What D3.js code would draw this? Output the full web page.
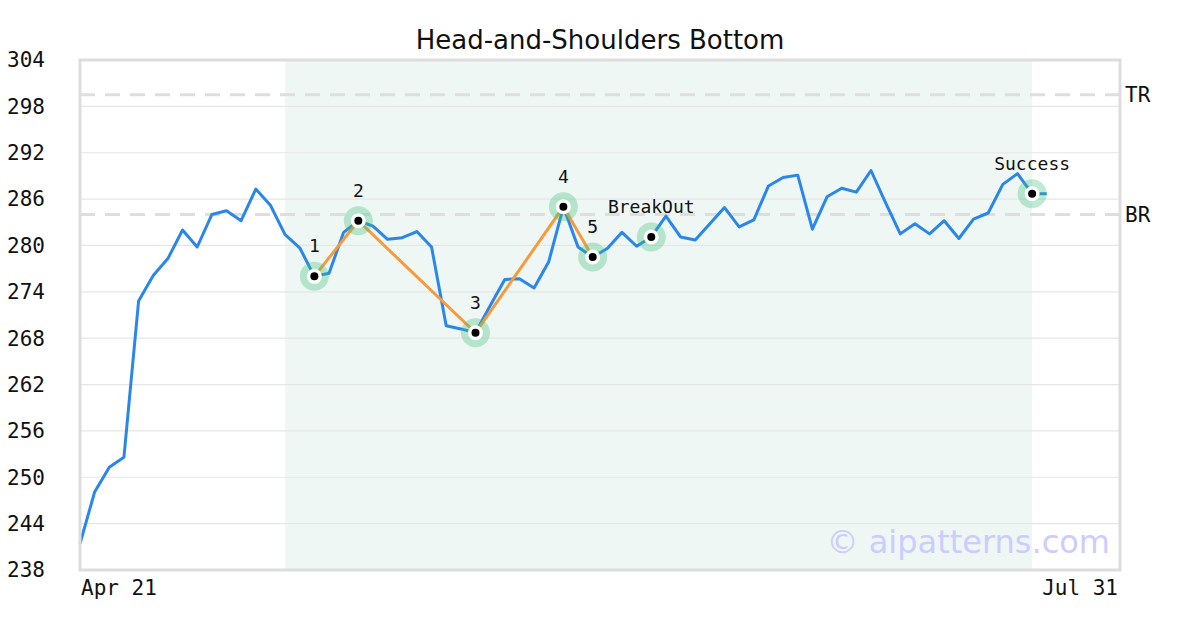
<!DOCTYPE html>
<html>
<head>
<meta charset="utf-8">
<script src="https://cdn.jsdelivr.net/npm/d3@7/dist/d3.min.js"></script>
<style>
  html, body { margin: 0; padding: 0; background: #fff; }
  svg { display: block; }
</style>
</head>
<body>
<svg id="chart" width="1200" height="630"></svg>
<script>
// ---- data ----
const prices = [
  241.4, 248.1, 251.3, 252.6, 272.8, 276.1, 278.3, 282.0, 279.8, 284.0,
  284.5, 283.2, 287.3, 285.2, 281.4, 279.7, 276.0, 276.4, 281.7, 283.2,
  282.5, 280.8, 281.0, 281.8, 279.8, 269.6, 269.2, 268.7, 272.2, 275.6,
  275.7, 274.5, 277.9, 285.0, 279.8, 278.5, 279.6, 281.7, 279.9, 281.1,
  283.8, 281.1, 280.7, 282.8, 284.9, 282.4, 283.3, 287.7, 288.8, 289.1,
  282.1, 286.3, 287.4, 286.9, 289.7, 285.5, 281.5, 282.8, 281.5, 283.2,
  280.9, 283.4, 284.2, 287.9, 289.3, 286.7, 286.7
];
const xDomain = [0, 71];                 // trading-day index range of the axis
const xTickIndex = [0, 71];
const xTickLabels = ["Apr 21", "Jul 31"];
const yTicks = [238, 244, 250, 256, 262, 268, 274, 280, 286, 292, 298, 304];
const patternIdx = [16, 19, 27, 33, 35];
const patternLabels = ["1", "2", "3", "4", "5"];
const eventIdx = [39, 65];
const eventLabels = ["BreakOut", "Success"];
const levelValues = [299.5, 284.0];
const levelLabels = ["TR", "BR"];
const shadeRange = [14, 65];

// ---- layout ----
const L = 80, R = 1120, T = 60, B = 570;
const svg = d3.select("#chart");
const x = d3.scaleLinear().domain(xDomain).range([L, R]);
const y = d3.scaleLinear().domain([238, 304]).range([B, T]);
const mono = "'DejaVu Sans Mono', monospace";
const sans = "'DejaVu Sans', sans-serif";

// title
svg.append("text").attr("x", 600).attr("y", 49).attr("text-anchor", "middle")
  .attr("font-family", sans).attr("font-size", 26).attr("fill", "#111")
  .text("Head-and-Shoulders Bottom");

// shaded pattern region
svg.append("rect")
  .attr("x", x(shadeRange[0])).attr("y", T)
  .attr("width", x(shadeRange[1]) - x(shadeRange[0])).attr("height", B - T)
  .attr("fill", "#eff7f4");

// gridlines
svg.append("g").selectAll("line").data(yTicks.slice(1, -1)).join("line")
  .attr("x1", L).attr("x2", R).attr("y1", d => y(d)).attr("y2", d => y(d))
  .attr("stroke", "#e6e6e6").attr("stroke-width", 1.2);

// y tick labels
svg.append("g").selectAll("text").data(yTicks).join("text")
  .attr("x", 45).attr("y", d => y(d)).attr("dy", "0.35em")
  .attr("text-anchor", "end").attr("font-family", mono).attr("font-size", 21)
  .attr("fill", "#111").text(d => d);

// x tick labels
svg.append("g").selectAll("text").data(xTickIndex).join("text")
  .attr("x", (d, i) => i === 0 ? x(d) + 1 : x(d) - 2).attr("y", 595)
  .attr("text-anchor", (d, i) => i === 0 ? "start" : "end")
  .attr("font-family", mono).attr("font-size", 21).attr("fill", "#111")
  .text((d, i) => xTickLabels[i]);

// level dashed lines
svg.append("g").selectAll("line").data(levelValues).join("line")
  .attr("x1", L).attr("x2", R).attr("y1", d => y(d)).attr("y2", d => y(d))
  .attr("stroke", "#dedede").attr("stroke-width", 3).attr("stroke-dasharray", "15,10");
svg.append("g").selectAll("text").data(levelValues).join("text")
  .attr("x", 1125).attr("y", d => y(d)).attr("dy", "0.35em")
  .attr("font-family", mono).attr("font-size", 21).attr("fill", "#111")
  .text((d, i) => levelLabels[i]);

// watermark
svg.append("text").attr("x", 1110).attr("y", 553).attr("text-anchor", "end")
  .attr("font-family", sans).attr("font-size", 32).attr("fill", "#ccccff")
  .text("© aipatterns.com");

// price line
const line = d3.line().x((d, i) => x(i)).y(d => y(d));
svg.append("path").datum(prices).attr("d", line)
  .attr("fill", "none").attr("stroke", "#2a86e8").attr("stroke-width", 3)
  .attr("stroke-linejoin", "round");

// pattern line
const patLine = d3.line().x(i => x(i)).y(i => y(prices[i]));
svg.append("path").datum(patternIdx).attr("d", patLine)
  .attr("fill", "none").attr("stroke", "#f79a3e").attr("stroke-width", 3);

// markers
const allIdx = patternIdx.concat(eventIdx);
const allLabels = patternLabels.concat(eventLabels);
const mk = svg.append("g").selectAll("g").data(allIdx).join("g")
  .attr("transform", i => `translate(${x(i)},${y(prices[i])})`);
mk.append("circle").attr("r", 14.5).attr("fill", "rgba(60,190,120,0.33)");
mk.append("circle").attr("r", 7.5).attr("fill", "#fff");
mk.append("circle").attr("r", 4).attr("fill", "#000");
mk.append("text").attr("y", -24).attr("text-anchor", "middle")
  .attr("font-family", mono).attr("font-size", 18).attr("fill", "#111")
  .text((d, i) => allLabels[i]);

// plot border
svg.append("rect").attr("x", L).attr("y", T).attr("width", R - L).attr("height", B - T)
  .attr("fill", "none").attr("stroke", "#dddddd").attr("stroke-width", 3);
</script>
</body>
</html>
